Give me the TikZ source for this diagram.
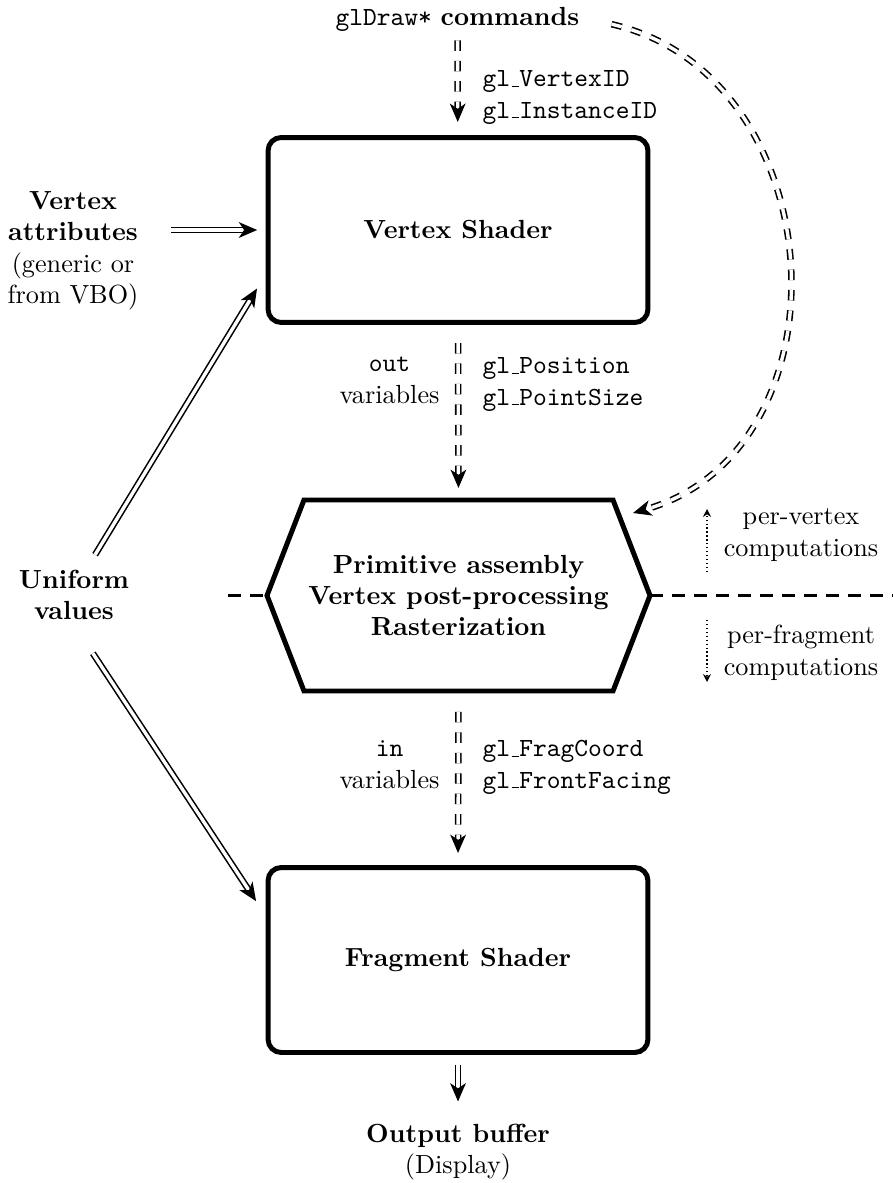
\documentclass[tikz,border=0pt]{standalone}
\usetikzlibrary{arrows.meta,calc}
% low rule used as the underscore in identifiers
\newcommand\usc{\kern.06em\vbox{\hrule width.3em}}
\begin{document}
\begin{tikzpicture}[x=0.3817pt,y=-0.3817pt,
  shaderbox/.style={draw,line width=1.9pt,rounded corners=5pt,
    minimum width=145pt,minimum height=70.6pt,font=\bfseries},
  txt/.style={align=center},
  lbl/.style={inner sep=0pt},
  dbl/.style={double,line width=0.6pt,double distance=1.3pt,
    -{Stealth[length=7pt,width=6pt,inset=2pt]}},
  dbldash/.style={dbl,dash pattern=on 4pt off 3.8pt},
  sepline/.style={line width=1.2pt,dash pattern=on 5pt off 3.4pt},
  dotarrow/.style={densely dotted,line width=0.5pt,-{Stealth[length=3pt,width=3pt]}}]
\useasboundingbox (0,0) rectangle (893,1183);

% stages
\node[shaderbox] (vs) at (458,230) {Vertex Shader};
\node[inner sep=0pt,outer sep=0pt,minimum width=146.2pt,minimum height=72.9pt,
  align=center,font=\bfseries] (hex) at (458.5,595.5)
  {Primitive assembly\\Vertex post-processing\\Rasterization};
\draw[line width=1.9pt,line join=miter]
  (hex.west) -- ($(hex.north west)+(37,0)$) -- ($(hex.north east)+(-37,0)$)
  -- (hex.east) -- ($(hex.south east)+(-37,0)$) -- ($(hex.south west)+(37,0)$)
  -- cycle;
\node[shaderbox] (fs) at (458,960) {Fragment Shader};

% inputs and outputs
\node (cmd) at (457.5,19) {{\ttfamily\mdseries glDraw*} \textbf{commands}};
\node[txt] (attr) at (73,251) {\textbf{Vertex}\\\textbf{attributes}\\(generic or\\from VBO)};
\node[txt,font=\bfseries] (unif) at (74,595) {Uniform\\values};
\node[txt] (outbuf) at (458,1152) {\textbf{Output buffer}\\(Display)};

% builtin variables
\node[lbl,anchor=west,align=left,font=\ttfamily] (vid) at (482,97.5)
  {gl\usc VertexID\\gl\usc InstanceID};
\node[lbl,anchor=west,align=left,font=\ttfamily] (pos) at (482,384.5)
  {gl\usc Position\\gl\usc PointSize};
\node[lbl,anchor=east,align=center] (outv) at (440,380.5)
  {\texttt{out}\\variables};
\node[lbl,anchor=west,align=left,font=\ttfamily] (frag) at (482,767.5)
  {gl\usc FragCoord\\gl\usc FrontFacing};
\node[lbl,anchor=east,align=center] (inv) at (440,764.5)
  {\texttt{in}\\variables};

% data flow
\draw[dbldash,shorten >=5pt] (cmd) -- (vs);
\draw[dbldash,shorten <=6.9pt,shorten >=4.6pt] (vs.south) -- (hex.north);
\draw[dbldash,shorten <=8pt,shorten >=4.6pt] (hex.south) -- (fs.north);
\draw[dbl,shorten <=3.8pt,shorten >=5pt] (fs.south) -- (outbuf.north);
\draw[dbl,shorten <=8.9pt,shorten >=3.2pt] (attr.east |- vs.west) -- (vs.west);
\draw[dbl,shorten <=2.7pt,shorten >=6.3pt] (unif.63) -- (vs.193.4);
\draw[dbl,shorten <=11pt,shorten >=6.6pt] (unif.-85) -- (fs.167);

\coordinate (hexin) at (633,513);
\draw[dbldash,shorten <=9pt] (cmd.east) .. controls (835,75) and (855,450) .. (hexin);

% vertex / fragment split
\coordinate (sepL) at (228,595.5);
\coordinate (sepR) at (893,595.5);
\draw[sepline] (sepL) -- (hex.west);
\draw[sepline] (hex.east) -- (sepR);

\node[txt] (pv) at (801,535) {per-vertex\\computations};
\node[txt] (pf) at (801,653) {per-fragment\\computations};
\coordinate (pvtail) at (707,572);
\coordinate (pvhead) at (707,509);
\coordinate (pftail) at (707,620);
\coordinate (pfhead) at (707,682);
\draw[dotarrow] (pvtail) -- (pvhead);
\draw[dotarrow] (pftail) -- (pfhead);
\end{tikzpicture}
\end{document}
